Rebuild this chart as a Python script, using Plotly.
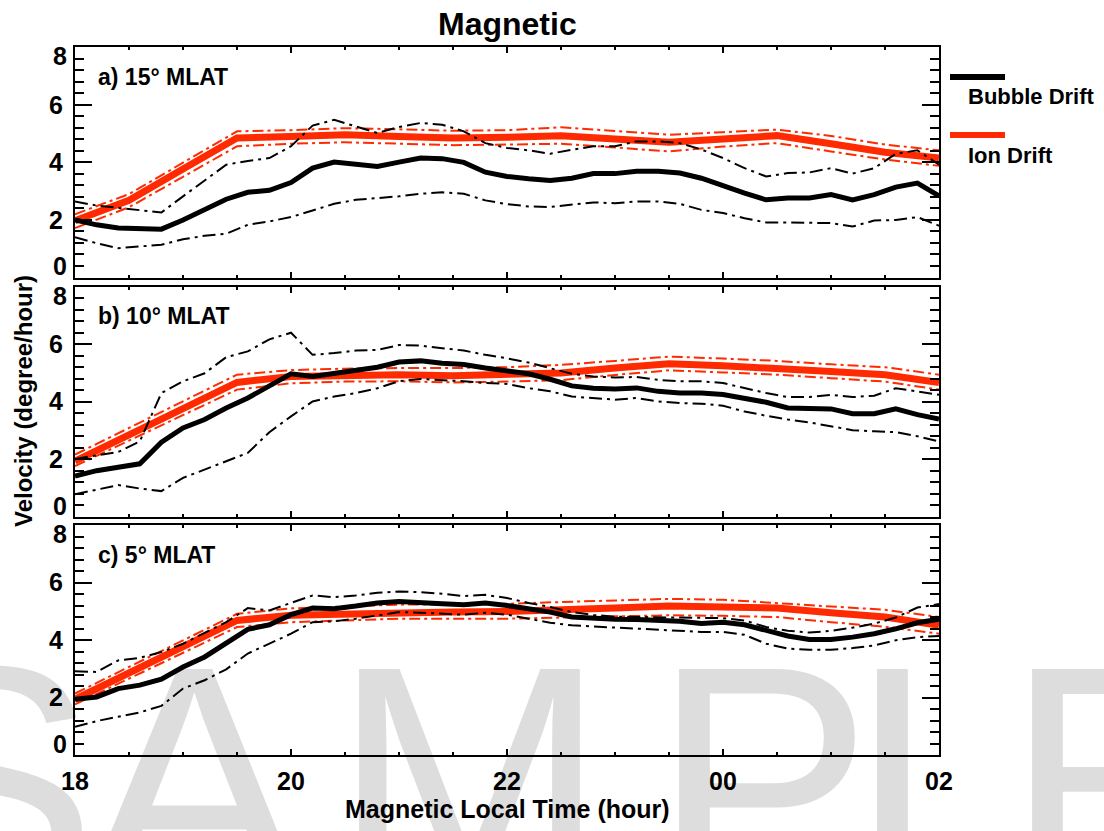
import plotly.graph_objects as go

# ---------------- data ----------------
HOURS_BUBBLE = [18.0, 18.2, 18.4, 18.6, 18.8, 19.0, 19.2, 19.4, 19.6, 19.8,
                20.0, 20.2, 20.4, 20.6, 20.8, 21.0, 21.2, 21.4, 21.6, 21.8,
                22.0, 22.2, 22.4, 22.6, 22.8, 23.0, 23.2, 23.4, 23.6, 23.8,
                24.0, 24.2, 24.4, 24.6, 24.8, 25.0, 25.2, 25.4, 25.6, 25.8, 26.0]
HOURS_ION = [18.0, 18.5, 19.0, 19.5, 20.0, 20.5, 21.0, 21.5, 22.0,
             22.5, 23.0, 23.5, 24.0, 24.5, 25.0, 25.5, 26.0]

# a) 15 deg MLAT
A_BUBBLE = [2.00, 1.83, 1.72, 1.70, 1.68, 2.00, 2.38, 2.72, 2.96, 3.03,
            3.30, 3.80, 4.01, 3.94, 3.86, 4.01, 4.15, 4.13, 4.00, 3.66,
            3.51, 3.43, 3.37, 3.45, 3.61, 3.61, 3.69, 3.69, 3.63, 3.45,
            3.17, 2.93, 2.70, 2.76, 2.76, 2.88, 2.70, 2.88, 3.14, 3.28, 2.84]
A_BUBBLE_UP = [2.64, 2.50, 2.42, 2.35, 2.26, 2.82, 3.36, 3.92, 4.05, 4.15,
               4.56, 5.28, 5.48, 5.25, 5.02, 5.23, 5.37, 5.31, 5.08, 4.67,
               4.50, 4.42, 4.30, 4.44, 4.56, 4.56, 4.73, 4.73, 4.67, 4.45,
               4.15, 3.80, 3.51, 3.63, 3.65, 3.80, 3.61, 3.80, 4.30, 4.42, 3.92]
A_BUBBLE_LO = [1.40, 1.19, 1.02, 1.08, 1.14, 1.33, 1.45, 1.52, 1.83, 1.95,
               2.10, 2.33, 2.56, 2.70, 2.76, 2.82, 2.91, 2.96, 2.91, 2.68,
               2.55, 2.47, 2.45, 2.53, 2.61, 2.58, 2.64, 2.64, 2.56, 2.35,
               2.24, 2.06, 1.91, 1.91, 1.91, 1.89, 1.77, 1.98, 2.00, 2.10, 1.80]
A_ION = [1.97, 2.68, 3.77, 4.85, 4.90, 4.96, 4.90, 4.85, 4.87,
         4.93, 4.81, 4.70, 4.81, 4.93, 4.65, 4.35, 4.15]
A_ION_UP = [2.20, 2.90, 3.99, 5.08, 5.12, 5.19, 5.15, 5.10, 5.12,
            5.22, 5.09, 4.96, 5.05, 5.14, 4.92, 4.62, 4.42]
A_ION_LO = [1.72, 2.44, 3.50, 4.56, 4.65, 4.70, 4.65, 4.60, 4.62,
            4.65, 4.52, 4.38, 4.55, 4.67, 4.38, 4.10, 3.88]

# b) 10 deg MLAT
B_BUBBLE = [1.41, 1.60, 1.72, 1.84, 2.59, 3.09, 3.38, 3.78, 4.13, 4.53,
            4.97, 4.88, 4.99, 5.11, 5.20, 5.38, 5.42, 5.34, 5.29, 5.17,
            5.09, 4.97, 4.78, 4.55, 4.47, 4.44, 4.48, 4.36, 4.30, 4.30,
            4.25, 4.13, 3.98, 3.78, 3.75, 3.75, 3.58, 3.58, 3.75, 3.55, 3.40]
B_BUBBLE_UP = [2.01, 2.12, 2.25, 2.62, 4.30, 4.71, 4.99, 5.55, 5.75, 6.17,
               6.40, 5.63, 5.69, 5.78, 5.80, 5.97, 5.95, 5.86, 5.78, 5.63,
               5.51, 5.36, 5.17, 4.97, 4.88, 4.84, 4.86, 4.76, 4.71, 4.71,
               4.65, 4.47, 4.30, 4.16, 4.16, 4.24, 4.16, 4.21, 4.47, 4.36, 4.24]
B_BUBBLE_LO = [0.78, 0.95, 1.10, 0.98, 0.89, 1.35, 1.65, 1.93, 2.22, 2.94,
               3.49, 4.01, 4.18, 4.30, 4.47, 4.71, 4.79, 4.76, 4.71, 4.65,
               4.62, 4.47, 4.36, 4.18, 4.13, 4.07, 4.13, 4.01, 3.95, 3.93,
               3.86, 3.66, 3.51, 3.38, 3.28, 3.14, 3.01, 2.97, 2.94, 2.80, 2.62]
B_ION = [1.93, 2.84, 3.76, 4.67, 4.88, 4.94, 4.94, 4.90, 4.94,
         5.00, 5.17, 5.32, 5.25, 5.17, 5.05, 4.94, 4.67]
B_ION_UP = [2.16, 3.08, 4.00, 4.94, 5.10, 5.15, 5.17, 5.17, 5.20,
            5.28, 5.42, 5.57, 5.50, 5.42, 5.30, 5.20, 4.94]
B_ION_LO = [1.76, 2.64, 3.52, 4.42, 4.64, 4.70, 4.71, 4.67, 4.70,
            4.75, 4.93, 5.09, 5.02, 4.94, 4.82, 4.70, 4.42]

# c) 5 deg MLAT
C_BUBBLE = [1.94, 2.02, 2.31, 2.43, 2.64, 3.06, 3.41, 3.87, 4.37, 4.53,
            4.88, 5.11, 5.09, 5.18, 5.29, 5.34, 5.32, 5.26, 5.23, 5.29,
            5.20, 5.09, 4.97, 4.80, 4.74, 4.72, 4.71, 4.68, 4.65, 4.57,
            4.62, 4.53, 4.34, 4.14, 4.02, 4.02, 4.10, 4.22, 4.39, 4.60, 4.72]
C_BUBBLE_UP = [2.91, 2.89, 3.29, 3.38, 3.58, 3.87, 4.25, 4.62, 5.11, 5.03,
               5.29, 5.55, 5.49, 5.55, 5.64, 5.69, 5.66, 5.61, 5.53, 5.57,
               5.46, 5.29, 5.15, 4.97, 4.87, 4.81, 4.80, 4.78, 4.78, 4.77,
               4.76, 4.68, 4.45, 4.32, 4.26, 4.32, 4.43, 4.57, 4.78, 5.13, 5.25]
C_BUBBLE_LO = [0.98, 1.18, 1.33, 1.48, 1.71, 2.31, 2.60, 2.98, 3.53, 3.87,
               4.22, 4.62, 4.65, 4.74, 4.86, 4.97, 4.95, 4.91, 4.88, 4.95,
               4.88, 4.74, 4.60, 4.51, 4.47, 4.43, 4.40, 4.36, 4.32, 4.28,
               4.28, 4.18, 3.87, 3.70, 3.66, 3.66, 3.72, 3.81, 3.99, 4.10, 4.14]
C_ION = [1.94, 2.85, 3.77, 4.68, 4.86, 4.91, 4.97, 4.97, 4.99,
         5.03, 5.11, 5.18, 5.14, 5.11, 4.95, 4.80, 4.51]
C_ION_UP = [2.14, 3.06, 3.98, 4.91, 5.10, 5.17, 5.23, 5.24, 5.26,
            5.32, 5.38, 5.43, 5.40, 5.29, 5.18, 5.05, 4.80]
C_ION_LO = [1.76, 2.66, 3.55, 4.45, 4.62, 4.68, 4.74, 4.74, 4.74,
            4.78, 4.82, 4.86, 4.84, 4.80, 4.62, 4.46, 4.22]

PANEL_LABELS = ["a) 15° MLAT", "b) 10° MLAT", "c) 5° MLAT"]
X_TICK_ALIAS = {"24": "00", "26": "02"}
LEGEND_NAMES = ["Bubble Drift", "Ion Drift"]
WATERMARK = ["S", "A", "M", "P", "L", "E"]

# ---------------- layout helpers ----------------
W, H = 1104, 831
ML, MR, MT, MB = 75, 165, 47, 76
PW, PH = W - ML - MR, H - MT - MB


def px_x(px):
    return (px - ML) / PW


def px_y(py):
    return (H - MB - py) / PH


FONT = "Liberation Sans, Arial, Helvetica, sans-serif"
RED = "#FF2A00"
BLACK = "#000000"
DASH_BLACK = "13px,5px,3px,5px"
DASH_RED = "11px,4px,3px,4px"

PANEL_PX = [(47.3, 277.5), (286.7, 516.7), (525.0, 755.0)]

panels = [
    (A_BUBBLE, A_BUBBLE_UP, A_BUBBLE_LO, A_ION, A_ION_UP, A_ION_LO),
    (B_BUBBLE, B_BUBBLE_UP, B_BUBBLE_LO, B_ION, B_ION_UP, B_ION_LO),
    (C_BUBBLE, C_BUBBLE_UP, C_BUBBLE_LO, C_ION, C_ION_UP, C_ION_LO),
]

fig = go.Figure()

for i, (bm, bu, bl, im, iu, il) in enumerate(panels):
    xa = "x" if i == 0 else f"x{i+1}"
    ya = "y" if i == 0 else f"y{i+1}"
    common = dict(xaxis=xa, yaxis=ya, mode="lines", showlegend=False, hoverinfo="skip")
    fig.add_trace(go.Scatter(x=HOURS_ION, y=iu, line=dict(color=RED, width=2, dash=DASH_RED), **common))
    fig.add_trace(go.Scatter(x=HOURS_ION, y=il, line=dict(color=RED, width=2, dash=DASH_RED), **common))
    fig.add_trace(go.Scatter(x=HOURS_ION, y=im, line=dict(color=RED, width=7), **common))
    fig.add_trace(go.Scatter(x=HOURS_BUBBLE, y=bu, line=dict(color=BLACK, width=2, dash=DASH_BLACK), **common))
    fig.add_trace(go.Scatter(x=HOURS_BUBBLE, y=bl, line=dict(color=BLACK, width=2, dash=DASH_BLACK), **common))
    fig.add_trace(go.Scatter(x=HOURS_BUBBLE, y=bm, line=dict(color=BLACK, width=5), **common))

tickfont = dict(family=FONT, size=25, color="black", weight="bold")

layout = dict(
    width=W, height=H,
    margin=dict(l=ML, r=MR, t=MT, b=MB, pad=0),
    paper_bgcolor="rgba(0,0,0,0)", plot_bgcolor="rgba(0,0,0,0)",
    showlegend=False,
)

for i, (top, bot) in enumerate(PANEL_PX):
    xkey = "xaxis" if i == 0 else f"xaxis{i+1}"
    ykey = "yaxis" if i == 0 else f"yaxis{i+1}"
    yname = "y" if i == 0 else f"y{i+1}"
    xname = "x" if i == 0 else f"x{i+1}"
    layout[xkey] = dict(
        domain=[0, 1], anchor=yname, range=[18, 26],
        tickmode="linear", tick0=18, dtick=2, labelalias=X_TICK_ALIAS,
        showticklabels=(i == 2),
        ticks="inside", ticklen=6, tickwidth=1.5, tickcolor="black",
        minor=dict(ticks="inside", tick0=18, dtick=0.5, ticklen=3, tickwidth=1.5, tickcolor="black"),
        showline=True, linewidth=2, linecolor="black", mirror="ticks",
        showgrid=False, zeroline=False, tickfont=tickfont, ticklabelstandoff=3,
    )
    if i < 2:
        layout[xkey]["matches"] = "x3"
    layout[ykey] = dict(
        domain=[px_y(bot), px_y(top)], anchor=xname, range=[0, 8],
        tickmode="linear", tick0=0, dtick=2, labelalias={"0": " ", "8": " "},
        ticks="inside", ticklen=17, tickwidth=1.5, tickcolor="black",
        minor=dict(ticks="inside", tick0=0, dtick=0.4, ticklen=9, tickwidth=1.5, tickcolor="black"),
        showline=True, linewidth=2, linecolor="black", mirror="ticks",
        showgrid=False, zeroline=False, tickfont=tickfont, ticklabelstandoff=5,
    )

fig.update_layout(**layout)

ann = []
shapes = []

# watermark (drawn faint)
wm_left = [-125, 82, 330, 650, 848, 1003]
for letter, lx in zip(WATERMARK, wm_left):
    ann.append(dict(text=letter, x=px_x(lx), y=px_y(595), xref="paper", yref="paper",
                    xanchor="left", yanchor="top", showarrow=False,
                    font=dict(family=FONT, size=330, color="rgba(0,0,0,0.135)")))

# y tick labels 0 and 8 shifted inwards
for i in range(3):
    yname = "y" if i == 0 else f"y{i+1}"
    ann.append(dict(text="8", x=0, xref="paper", y=8, yref=yname, xanchor="right", yanchor="middle",
                    xshift=-6, yshift=-9, showarrow=False, font=tickfont))
    ann.append(dict(text="0", x=0, xref="paper", y=0, yref=yname, xanchor="right", yanchor="middle",
                    xshift=-6, yshift=11, showarrow=False, font=tickfont))

bold22 = dict(family=FONT, size=22, color="black", weight="bold")
bold23 = dict(family=FONT, size=23, color="black", weight="bold")
for i, lab in enumerate(PANEL_LABELS):
    top = PANEL_PX[i][0]
    ann.append(dict(text=lab, x=px_x(96), y=px_y(top + 29.5), xref="paper", yref="paper",
                    xanchor="left", yanchor="middle", showarrow=False, font=bold23))

ann.append(dict(text="Magnetic", x=px_x(507), y=px_y(24), xref="paper", yref="paper",
                xanchor="center", yanchor="middle", showarrow=False,
                font=dict(family=FONT, size=32, color="black", weight="bold")))
ann.append(dict(text="Magnetic Local Time (hour)", x=px_x(507), y=px_y(809), xref="paper", yref="paper",
                xanchor="center", yanchor="middle", showarrow=False,
                font=dict(family=FONT, size=25, color="black", weight="bold")))
ann.append(dict(text="Velocity (degree/hour)", x=px_x(23), y=px_y(401), xref="paper", yref="paper",
                xanchor="center", yanchor="middle", textangle=-90, showarrow=False,
                font=dict(family=FONT, size=24, color="black", weight="bold")))

# legend
for name, col, ly, ty in [(LEGEND_NAMES[0], BLACK, 77, 97), (LEGEND_NAMES[1], RED, 135, 155)]:
    shapes.append(dict(type="line", xref="paper", yref="paper", x0=px_x(950), x1=px_x(1005),
                       y0=px_y(ly), y1=px_y(ly), line=dict(color=col, width=6)))
    ann.append(dict(text=name, x=px_x(966), y=px_y(ty), xref="paper", yref="paper",
                    xanchor="left", yanchor="middle", showarrow=False, font=bold22))

fig.update_layout(annotations=ann, shapes=shapes)
fig.write_html("out.html")
